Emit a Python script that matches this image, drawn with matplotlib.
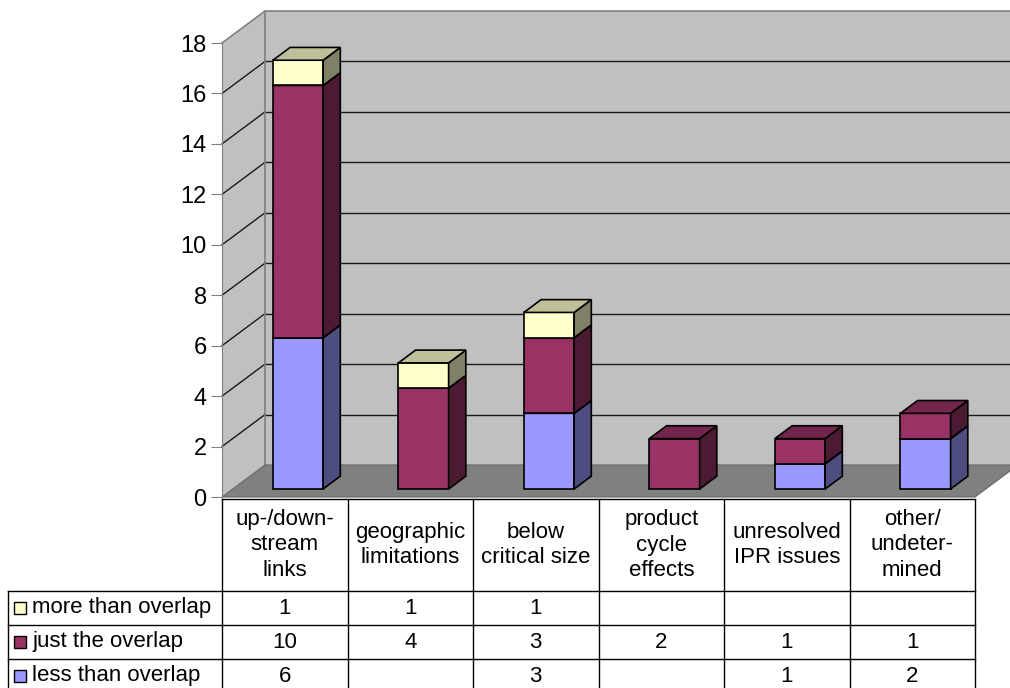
import matplotlib.pyplot as plt
from matplotlib.patches import Polygon, Rectangle
from matplotlib.colors import to_rgb

plt.rcParams['font.family'] = ['Liberation Sans', 'DejaVu Sans']

categories = [
    'up-/down-\nstream\nlinks',
    'geographic\nlimitations',
    'below\ncritical size',
    'product\ncycle\neffects',
    'unresolved\nIPR issues',
    'other/\nundeter-\nmined',
]
series_names = ['more than overlap', 'just the overlap', 'less than overlap']
more_than_overlap = [1, 1, 1, None, None, None]
just_the_overlap = [10, 4, 3, 2, 1, 1]
less_than_overlap = [6, None, 3, None, 1, 2]
y_ticks = [0, 2, 4, 6, 8, 10, 12, 14, 16, 18]

series_values = [more_than_overlap, just_the_overlap, less_than_overlap]
series_colors = ['#FFFFCC', '#993366', '#9999FF']

W, H = 1010, 688
n = len(categories)
y_max = y_ticks[-1]

# depth of the 3d box, in data units
DX = 43 / (753 / n)
DY = 32 / (454 / y_max)
BAR_W = 0.40
BAR_FRONT = 0.25
BAR_DEPTH = 0.40


def shade(color, k):
    r, g, b = to_rgb(color)
    return (r * k, g * k, b * k)


fig = plt.figure(figsize=(W / 100, H / 100), dpi=100)

bg = fig.add_axes([0, 0, 1, 1])
bg.set_xlim(0, W)
bg.set_ylim(H, 0)
bg.axis('off')

ax = fig.add_axes([222 / W, (H - 497) / H, 753 / W, 454 / H])
ax.set_xlim(0, n)
ax.set_ylim(0, y_max)
ax.patch.set_visible(False)
for side in ['top', 'right', 'bottom']:
    ax.spines[side].set_visible(False)
ax.spines['left'].set_color('#808080')
ax.spines['left'].set_zorder(0.8)
ax.set_xticks([])
ax.set_yticks(y_ticks)
ax.tick_params(axis='y', length=8, color='#808080', labelsize=17, pad=3)

# walls and floor
far = n + DX + 1
ax.add_patch(Polygon([(0, 0), (DX, DY), (DX, y_max + DY), (0, y_max)],
                     facecolor='#C0C0C0', edgecolor='none', zorder=0.5, clip_on=False))
ax.add_patch(Polygon([(DX, DY), (far, DY), (far, y_max + DY), (DX, y_max + DY)],
                     facecolor='#C0C0C0', edgecolor='none', zorder=0.5, clip_on=False))
for v in y_ticks[1:-1]:
    ax.plot([0, DX], [v, v + DY], color='#1a1a1a', lw=1, zorder=0.6, clip_on=False)
    ax.plot([DX, far], [v + DY, v + DY], color='#1a1a1a', lw=1, zorder=0.6, clip_on=False)
ax.plot([0, DX, far], [y_max, y_max + DY, y_max + DY], color='#808080', lw=1.2,
        zorder=0.6, clip_on=False)
ax.plot([DX, DX], [DY, y_max + DY], color='#808080', lw=1.2, zorder=0.6, clip_on=False)
ax.add_patch(Polygon([(0, 0), (n, 0), (n + DX, DY), (DX, DY)],
                     facecolor='#808080', edgecolor='#666666', lw=0.8, zorder=0.7,
                     clip_on=False))

# stacked 3d bars, bottom series first
stack_order = list(zip(series_values, series_colors))[::-1]
for i in range(n):
    base = 0
    x0 = i + 0.52 - BAR_W / 2 + BAR_FRONT * DX
    x1 = x0 + BAR_W
    y_off = BAR_FRONT * DY
    ddx, ddy = BAR_DEPTH * DX, BAR_DEPTH * DY
    for values, color in stack_order:
        v = values[i]
        if not v:
            continue
        b, t = base + y_off, base + v + y_off
        kw = dict(edgecolor='black', lw=1.2, zorder=2, clip_on=False, joinstyle='miter')
        ax.add_patch(Polygon([(x0, b), (x1, b), (x1, t), (x0, t)], facecolor=color, **kw))
        ax.add_patch(Polygon([(x1, b), (x1 + ddx, b + ddy), (x1 + ddx, t + ddy), (x1, t)],
                             facecolor=shade(color, 0.5), **kw))
        ax.add_patch(Polygon([(x0, t), (x1, t), (x1 + ddx, t + ddy), (x0 + ddx, t + ddy)],
                             facecolor=shade(color, 0.75), **kw))
        base += v

# data table
col_left = 222
col_w = 753 / n
head_top, head_bot = 499, 591
row_h = 34
rows_y = [head_bot + row_h * r for r in range(len(series_names) + 1)]
tab_right = col_left + col_w * n
line = dict(color='black', lw=1)

bg.plot([col_left, tab_right], [head_top, head_top], **line)
for r_y in rows_y:
    bg.plot([8, tab_right], [r_y, r_y], **line)
for c in range(n + 1):
    xc = col_left + col_w * c
    bg.plot([xc, xc], [head_top, H + 10], **line)
bg.plot([8, 8], [head_bot, H + 10], **line)

for c, label in enumerate(categories):
    bg.text(col_left + col_w * (c + 0.5), (head_top + head_bot) / 2, label,
            ha='center', va='center', multialignment='center', fontsize=16,
            linespacing=1.3)

for r, (name, values, color) in enumerate(zip(series_names, series_values, series_colors)):
    yc = rows_y[r] + row_h / 2
    bg.add_patch(Rectangle((14, yc - 6), 12, 12, facecolor=color, edgecolor='black', lw=1))
    bg.text(32, yc, name, ha='left', va='center', fontsize=16)
    for c, v in enumerate(values):
        if v is not None:
            bg.text(col_left + col_w * (c + 0.5), yc, str(v), ha='center', va='center',
                    fontsize=16)

fig.savefig('out.png', dpi=100)
